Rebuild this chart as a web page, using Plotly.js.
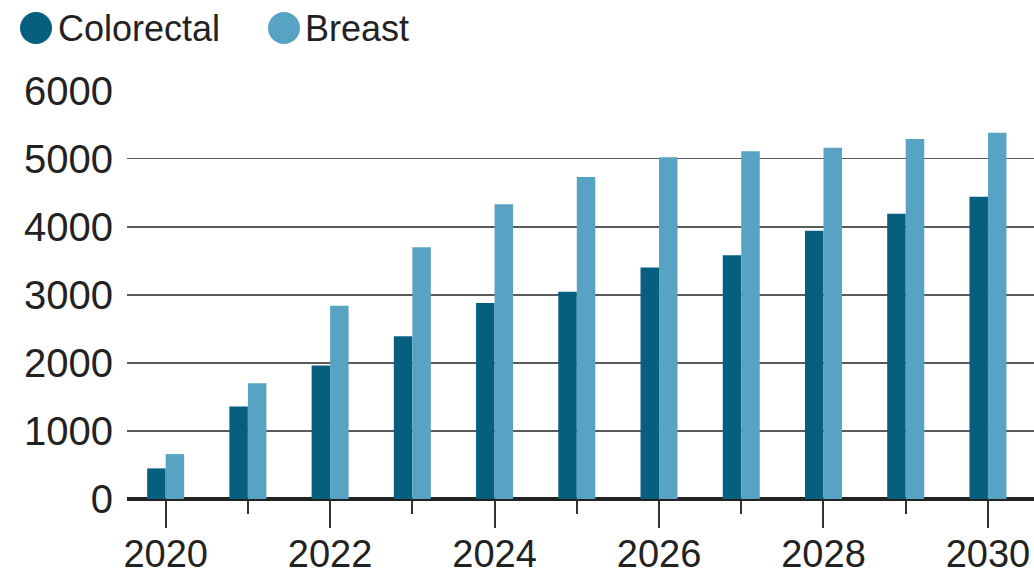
<!DOCTYPE html>
<html>
<head>
<meta charset="utf-8">
<script src="https://cdn.plot.ly/plotly-3.0.1.min.js"></script>
<style>
  html, body { margin: 0; padding: 0; background: #ffffff; }
  #chart { width: 1034px; height: 574px; }
</style>
</head>
<body>
<div id="chart"></div>
<script>
const years = [2020, 2021, 2022, 2023, 2024, 2025, 2026, 2027, 2028, 2029, 2030];
const colorectal = [450, 1360, 1960, 2390, 2880, 3045, 3400, 3580, 3940, 4190, 4440];
const breast = [660, 1700, 2840, 3700, 4330, 4730, 5020, 5110, 5160, 5290, 5380];
const seriesNames = ['Colorectal', 'Breast'];
const seriesColors = ['#075f80', '#58a3c3'];
const yTicks = [0, 1000, 2000, 3000, 4000, 5000, 6000];
const xLabelYears = [2020, 2022, 2024, 2026, 2028, 2030];

const FONT = '"Liberation Sans", Arial, sans-serif';
const ML = 127, MR = 0, MT = 90, MB = 75, W = 1034, H = 574;
const plotW = W - ML - MR, plotH = H - MT - MB;
const px = p => (p - ML) / plotW;
const py = q => (H - MB - q) / plotH;

const traces = [
  { type: 'bar', x: years, y: colorectal, name: seriesNames[0], marker: { color: seriesColors[0] }, showlegend: false },
  { type: 'bar', x: years, y: breast, name: seriesNames[1], marker: { color: seriesColors[1] }, showlegend: false },
  // carrier for the label-only axis (draws nothing)
  { type: 'scatter', mode: 'none', x: xLabelYears, y: xLabelYears.map(() => 0), xaxis: 'x2', yaxis: 'y', showlegend: false, hoverinfo: 'skip' }
];

const legendItems = [
  { cx: 36, tx: 56 },
  { cx: 284, tx: 303 }
];
const shapes = [];
const annotations = [];
legendItems.forEach((it, i) => {
  shapes.push({
    type: 'circle', xref: 'paper', yref: 'paper',
    xsizemode: 'pixel', ysizemode: 'pixel',
    xanchor: px(it.cx), yanchor: py(28),
    x0: -16, x1: 16, y0: -16, y1: 16,
    fillcolor: seriesColors[i], line: { width: 0 }
  });
  annotations.push({
    xref: 'paper', yref: 'paper', x: px(it.tx), y: py(29),
    xanchor: 'left', yanchor: 'middle', showarrow: false,
    text: seriesNames[i], font: { family: FONT, size: 36, color: '#222' }
  });
});

const xRange = [2019.53, 2030.56];

const layout = {
  width: W, height: H,
  margin: { l: ML, r: MR, t: MT, b: MB, pad: 0 },
  paper_bgcolor: '#ffffff', plot_bgcolor: '#ffffff',
  showlegend: false,
  barmode: 'group', bargap: 0.55, bargroupgap: 0,
  font: { family: FONT, size: 38, color: '#222' },
  xaxis: {
    range: xRange,
    tickmode: 'linear', tick0: 2020, dtick: 2,
    ticks: 'outside', ticklen: 28, tickwidth: 2, tickcolor: '#333',
    minor: { tickmode: 'linear', tick0: 2020, dtick: 1, ticks: 'outside', ticklen: 14, tickwidth: 2, tickcolor: '#333', showgrid: false },
    showgrid: false, showline: false, zeroline: false,
    showticklabels: false
  },
  xaxis2: {
    overlaying: 'x', anchor: 'y', side: 'bottom',
    range: xRange,
    tickmode: 'array', tickvals: xLabelYears, ticktext: xLabelYears.map(String),
    ticks: '', ticklabelstandoff: 29,
    showgrid: false, showline: false, zeroline: false,
    tickfont: { family: FONT, size: 38, color: '#222' }
  },
  yaxis: {
    range: [0, 6010],
    tickmode: 'array', tickvals: yTicks, ticktext: yTicks.map(String),
    showgrid: true, gridcolor: '#5a5a5a', gridwidth: 1.5,
    zeroline: true, zerolinecolor: '#222', zerolinewidth: 4,
    showline: false, ticks: '', ticklabelstandoff: 13,
    tickfont: { family: FONT, size: 40, color: '#222' }
  },
  shapes: shapes,
  annotations: annotations
};

Plotly.newPlot('chart', traces, layout, { displayModeBar: false, staticPlot: true });
</script>
</body>
</html>
